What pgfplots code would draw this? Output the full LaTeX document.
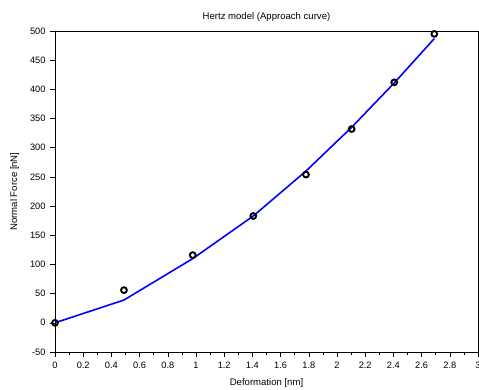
\documentclass[border=0pt]{standalone}
\usepackage{pgfplots}
\pgfplotsset{compat=1.18}
\usepackage{fontspec}
\setmainfont{Liberation Sans}
\begin{document}
\begin{tikzpicture}
\begin{axis}[name=ax,
  scale only axis, width=423bp, height=321bp,
  xmin=0, xmax=3, ymin=-50, ymax=500,
  xtick={0,0.2,...,3.01}, ytick={-50,0,...,500},
  minor x tick num=1,
  axis x line*=bottom, axis y line*=left,
  tick align=outside,
  major tick length=5bp, minor tick length=3bp,
  tick style={black, line width=0.6pt},
  axis line style={line width=0.8pt},
  /pgf/number format/assume math mode=true,
  ticklabel style={font=\fontsize{9.3}{11}\selectfont},
  xticklabel style={yshift=-2bp},
  yticklabel style={xshift=-1bp},
  title={Hertz model (Approach curve)},
  title style={font=\fontsize{9.6}{11}\selectfont, yshift=0bp},
  xlabel={Deformation [nm]}, ylabel={Normal Force [nN]},
  xlabel style={font=\fontsize{9.6}{11}\selectfont, yshift=-3bp},
  ylabel style={font=\fontsize{9.6}{11}\selectfont, yshift=4bp},
  clip=false,
]
\draw[black, line width=0.8pt] (rel axis cs:0,1) -- (rel axis cs:1,1) -- (rel axis cs:1,0);
\addplot[blue, line width=1.6pt, mark=none] coordinates {
(0,0) (0.489,39) (0.977,110) (1.406,183) (1.78,260) (2.104,335) (2.406,411) (2.69,487)
};
\addplot[only marks, mark=o, mark size=2.9bp, black, line width=1.9pt] coordinates {
(0,0) (0.489,56) (0.977,116) (1.406,183) (1.78,254) (2.104,332) (2.406,412) (2.69,495)
};
\end{axis}
\pgfresetboundingbox
\path[use as bounding box] ([shift={(-55bp,-38bp)}]ax.south west) rectangle ([shift={(1bp,31bp)}]ax.north east);
\end{tikzpicture}
\end{document}
